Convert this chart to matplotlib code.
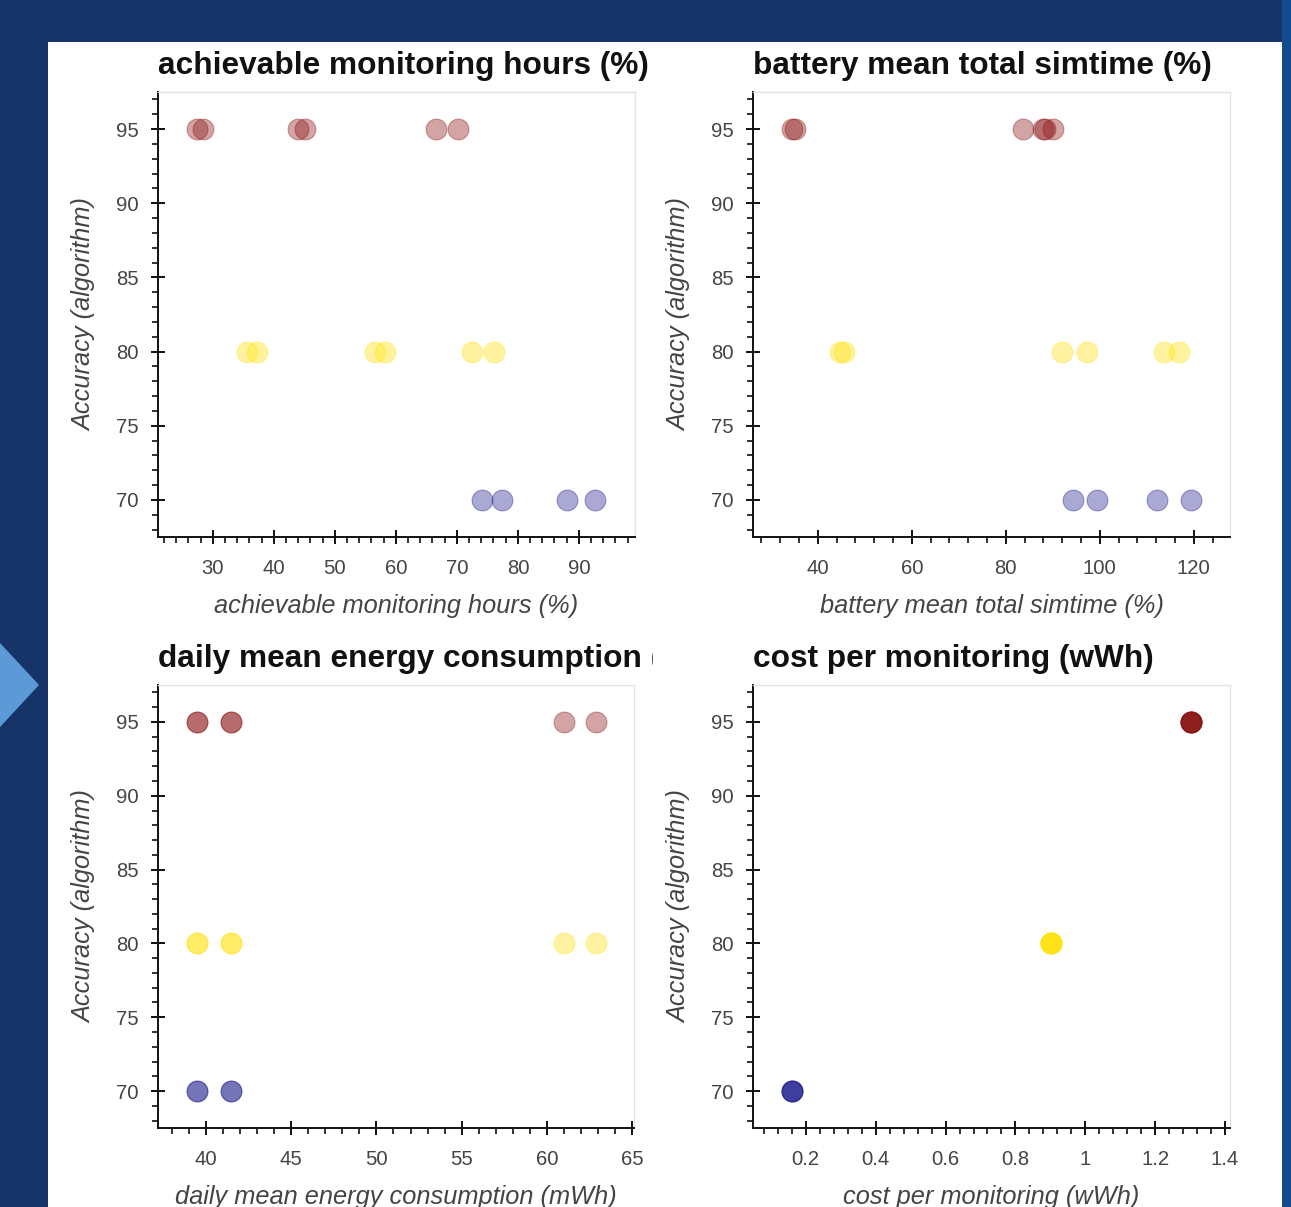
"""Accuracy vs. energy metrics, four scatter panels on a slide background."""

from __future__ import annotations

import matplotlib

matplotlib.use("Agg")
import matplotlib.pyplot as plt
from matplotlib.patches import Polygon, Rectangle
from matplotlib.ticker import FuncFormatter, MultipleLocator
from matplotlib.transforms import Bbox, TransformedBbox

W, H = 1291, 1207
DPI = 100

ACC_HIGH, ACC_MID, ACC_LOW = 95, 80, 70

# achievable monitoring hours (%)
HOURS_HIGH = [27.4, 28.4, 43.9, 45.1, 66.6, 70.2]
HOURS_MID = [35.6, 37.2, 56.6, 58.2, 72.5, 76.1]
HOURS_LOW = [74.1, 77.4, 88.0, 92.6]

# battery mean total simtime (%)
BATTERY_HIGH = [34.6, 35.1, 83.6, 87.9, 88.4, 90.0]
BATTERY_MID = [44.7, 45.5, 91.9, 97.2, 113.6, 116.8]
BATTERY_LOW = [94.3, 99.4, 112.1, 119.4]

# daily mean energy consumption (mWh)
ENERGY_HIGH = [39.5, 39.5, 41.5, 41.5, 61.0, 62.9]
ENERGY_MID = [39.5, 39.5, 41.5, 41.5, 61.0, 62.9]
ENERGY_LOW = [39.5, 39.5, 41.5, 41.5]

# cost per monitoring (wWh)
COST_HIGH = [1.303] * 6
COST_MID = [0.903] * 6
COST_LOW = [0.16] * 4

TITLES = [
    "achievable monitoring hours (%)",
    "battery mean total simtime (%)",
    "daily mean energy consumption (mWh)",
    "cost per monitoring (wWh)",
]
Y_LABEL = "Accuracy (algorithm)"

RED = "#8a1212"
YELLOW = "#ffe20a"
BLUE = "#1e1e8e"
ALPHA = 0.38

BG = "#173468"
ARROW = "#5b9ad6"

# (x0, y_top, x1, y_bottom) in pixels, xlim, major, minor
PANELS = [
    ((158, 92, 635, 537), (21.0, 99.2), 10, 2),
    ((753, 92, 1230, 537), (26.2, 127.7), 20, 4),
    ((158, 685, 634, 1128), (37.2, 65.1), 5, 1),
    ((753, 685, 1230, 1128), (0.049, 1.414), 0.2, 0.04),
]

FONT = "Liberation Sans"
TITLE_SIZE = 22.8
LABEL_SIZE = 18.3
TICK_SIZE = 14.6


def px_rect(x0, y0, x1, y1):
    return [x0 / W, 1 - y1 / H, (x1 - x0) / W, (y1 - y0) / H]


def style_axis(ax, xlim, major, minor):
    ax.set_xlim(*xlim)
    ax.set_ylim(67.5, 97.5)
    ax.xaxis.set_major_locator(MultipleLocator(major))
    ax.xaxis.set_minor_locator(MultipleLocator(minor))
    ax.yaxis.set_major_locator(MultipleLocator(5))
    ax.yaxis.set_minor_locator(MultipleLocator(1))
    ax.xaxis.set_major_formatter(FuncFormatter(lambda v, _: f"{v:g}"))
    for side in ("top", "right"):
        ax.spines[side].set_color("#e4e4e4")
        ax.spines[side].set_linewidth(1.0)
    for side in ("left", "bottom"):
        ax.spines[side].set_color("#111111")
        ax.spines[side].set_linewidth(1.4)
    ax.tick_params(which="major", direction="inout", length=10, width=1.4,
                   color="#111111", labelsize=TICK_SIZE, labelcolor="#444444")
    ax.tick_params(which="minor", direction="out", length=4, width=1.2, color="#111111")
    ax.tick_params(axis="x", which="major", pad=11)
    ax.tick_params(axis="y", which="major", pad=9)
    for lab in ax.get_xticklabels() + ax.get_yticklabels():
        lab.set_fontfamily(FONT)


def main() -> None:
    fig = plt.figure(figsize=(W / DPI, H / DPI), dpi=DPI, facecolor=BG)

    # slide decoration: white panel, right strip, arrow
    fig.patches.append(Rectangle((1282 / W, 0), 9 / W, 1, transform=fig.transFigure,
                                 facecolor="#144a8e", edgecolor="none", zorder=-10))
    fig.patches.append(Rectangle((48 / W, 0), (1282 - 48) / W, 1 - 42 / H,
                                 transform=fig.transFigure, facecolor="white",
                                 edgecolor="none", zorder=-10))
    fig.patches.append(Polygon([(0, 1 - 643 / H), (39 / W, 1 - 685 / H), (0, 1 - 727 / H)],
                               closed=True, transform=fig.transFigure,
                               facecolor=ARROW, edgecolor="none", zorder=-10))

    series = [
        (HOURS_HIGH, HOURS_MID, HOURS_LOW),
        (BATTERY_HIGH, BATTERY_MID, BATTERY_LOW),
        (ENERGY_HIGH, ENERGY_MID, ENERGY_LOW),
        (COST_HIGH, COST_MID, COST_LOW),
    ]

    for (rect, xlim, major, minor), title, (hi, mid, lo) in zip(PANELS, TITLES, series):
        ax = fig.add_axes(px_rect(*rect))
        ax.set_facecolor("white")
        for xs, acc, color in ((hi, ACC_HIGH, RED), (mid, ACC_MID, YELLOW), (lo, ACC_LOW, BLUE)):
            ax.scatter(xs, [acc] * len(xs), s=225, color=color, alpha=ALPHA,
                       edgecolors=color, linewidths=0.8, zorder=3)
        style_axis(ax, xlim, major, minor)

        x0, y0, x1, y1 = rect
        ax.set_xlabel(title, fontsize=LABEL_SIZE, fontstyle="italic",
                      color="#444444", fontfamily=FONT)
        ax.xaxis.set_label_coords(0.5, -69 / (y1 - y0))
        ax.xaxis.label.set_va("center")
        ax.set_ylabel(Y_LABEL, fontsize=LABEL_SIZE, fontstyle="italic",
                      color="#444444", fontfamily=FONT)
        ax.yaxis.set_label_coords(-74 / (x1 - x0), 0.5)
        ax.yaxis.label.set_va("center")

        # title is clipped by the plot cell, as in the source screenshot
        cell_right = 653 if x0 < 400 else 1282
        t = fig.text(x0 / W, 1 - (y0 - 18) / H, title, fontsize=TITLE_SIZE,
                     fontweight="bold", fontfamily=FONT, color="#111111",
                     ha="left", va="baseline")
        t.set_clip_box(TransformedBbox(Bbox([[0, 0], [cell_right / W, 1]]), fig.transFigure))
        t.set_clip_on(True)

    fig.savefig("out.png", dpi=DPI, facecolor=BG)
    plt.close(fig)


if __name__ == "__main__":
    main()
